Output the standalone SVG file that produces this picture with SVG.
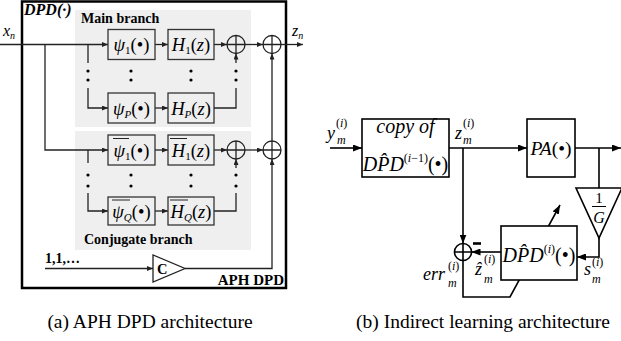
<svg xmlns="http://www.w3.org/2000/svg" width="621" height="341" viewBox="0 0 621 341">
<style>
.t{font-family:"Liberation Serif","Times New Roman",serif;fill:#000}
.i{font-style:italic}
.b{font-weight:bold}
.ll{stroke:#222;stroke-width:1.3;fill:none}
.lr{stroke:#000;stroke-width:1.6;fill:none}
.bl{fill:#efefef;stroke:#333;stroke-width:1.3}
.br{fill:#fff;stroke:#000;stroke-width:1.6}
.ov{stroke:#222;stroke-width:1}
.dot{fill:#000}
</style>
<defs>
<marker id="a" viewBox="0 0 6 5" refX="6" refY="2.5" markerWidth="6" markerHeight="5" markerUnits="userSpaceOnUse" orient="auto"><path d="M0,0L6,2.5L0,5z" fill="#222"/></marker>
<marker id="b" viewBox="0 0 9 7" refX="9" refY="3.5" markerWidth="9" markerHeight="7" markerUnits="userSpaceOnUse" orient="auto"><path d="M0,0L9,3.5L0,7z" fill="#000"/></marker>
</defs>

<g id="aph_dpd_frame">
<rect x="22" y="1.5" width="264" height="286.5" fill="#fff" stroke="#000" stroke-width="2.5"/>
<text class="t b i" x="24" y="15" font-size="16">DPD(·)</text>
<text class="t b" x="284" y="285" font-size="15" text-anchor="end">APH DPD</text>
</g>
<g id="main_branch">
<rect x="75" y="10" width="176" height="117" fill="#efefef"/>
<text class="t b" x="81" y="23" font-size="14">Main branch</text>
</g>
<g id="conjugate_branch">
<rect x="75" y="131" width="176" height="119" fill="#efefef"/>
<text class="t b" x="84" y="244" font-size="14">Conjugate branch</text>
</g>

<g id="connectors">
<path class="ll" d="M0,44.5H108" marker-end="url(#a)"/>
<path class="ll" d="M45,44.5V150H108" marker-end="url(#a)"/>
<path class="ll" d="M88,44.5V63"/>
<path class="ll" d="M88,88V108H108" marker-end="url(#a)"/>
<path class="ll" d="M155,44.5H168" marker-end="url(#a)"/>
<path class="ll" d="M155,108H168" marker-end="url(#a)"/>
<path class="ll" d="M214,44.5H227" marker-end="url(#a)"/>
<path class="ll" d="M214,108H236V88"/>
<path class="ll" d="M236,63V53.5" marker-end="url(#a)"/>
<path class="ll" d="M245,44.5H263" marker-end="url(#a)"/>
<path class="ll" d="M281,44.5H303" marker-end="url(#a)"/>
<path class="ll" d="M88,150V163"/>
<path class="ll" d="M88,193V211H108" marker-end="url(#a)"/>
<path class="ll" d="M155,150H168" marker-end="url(#a)"/>
<path class="ll" d="M155,211H168" marker-end="url(#a)"/>
<path class="ll" d="M214,150H227" marker-end="url(#a)"/>
<path class="ll" d="M214,211H236V193"/>
<path class="ll" d="M236,168V159" marker-end="url(#a)"/>
<path class="ll" d="M245,150H263" marker-end="url(#a)"/>
<path class="ll" d="M272,141V53.5" marker-end="url(#a)"/>
<path class="ll" d="M45,268.5H153" marker-end="url(#a)"/>
<path class="ll" d="M185,268.5H272V159" marker-end="url(#a)"/>
<g class="dot">
<circle cx="88" cy="71" r="1.6"/><circle cx="88" cy="80" r="1.6"/>
<circle cx="131" cy="71" r="1.6"/><circle cx="131" cy="80" r="1.6"/>
<circle cx="191" cy="71" r="1.6"/><circle cx="191" cy="80" r="1.6"/>
<circle cx="236" cy="71" r="1.6"/><circle cx="236" cy="80" r="1.6"/>
<circle cx="88" cy="175" r="1.6"/><circle cx="88" cy="186" r="1.6"/>
<circle cx="131" cy="175" r="1.6"/><circle cx="131" cy="186" r="1.6"/>
<circle cx="191" cy="175" r="1.6"/><circle cx="191" cy="186" r="1.6"/>
<circle cx="236" cy="175" r="1.6"/><circle cx="236" cy="186" r="1.6"/>
</g>
<path class="lr" d="M330,148H362" marker-end="url(#b)"/>
<path class="lr" d="M449,148H527" marker-end="url(#b)"/>
<path class="lr" d="M575,148H621" marker-end="url(#b)"/>
<path class="lr" d="M599,148V188"/>
<path class="lr" d="M599,238V257H577" marker-end="url(#b)"/>
<path class="lr" d="M463,148V243.5" marker-end="url(#b)"/>
<path class="lr" d="M501,252H471.5" marker-end="url(#b)"/>
<path class="lr" d="M463,260.5V297H510L560,205" marker-end="url(#b)"/>
</g>

<g id="x_n"><text class="t i" x="3" y="36" font-size="16">x<tspan font-size="10" dy="3">n</tspan></text></g>
<g id="z_n"><text class="t i" x="292" y="36" font-size="16">z<tspan font-size="10" dy="3">n</tspan></text></g>
<g id="psi_1"><rect class="bl" x="108" y="29.5" width="47" height="30"/>
<text class="t" x="131.5" y="51" font-size="18.5" text-anchor="middle"><tspan class="i">ψ</tspan><tspan font-size="11" dy="3">1</tspan><tspan dy="-3">(•)</tspan></text></g>
<g id="H_1"><rect class="bl" x="168" y="29.5" width="46" height="30"/>
<text class="t" x="191" y="51" font-size="18.5" text-anchor="middle"><tspan class="i">H</tspan><tspan font-size="11" dy="3">1</tspan><tspan dy="-3">(</tspan><tspan class="i">z</tspan>)</text></g>
<g id="psi_P"><rect class="bl" x="108" y="93" width="47" height="30"/>
<text class="t" x="131.5" y="114.5" font-size="18.5" text-anchor="middle"><tspan class="i">ψ</tspan><tspan class="i" font-size="11" dy="3">P</tspan><tspan dy="-3">(•)</tspan></text></g>
<g id="H_P"><rect class="bl" x="168" y="93" width="46" height="30"/>
<text class="t" x="191" y="114.5" font-size="18.5" text-anchor="middle"><tspan class="i">H</tspan><tspan class="i" font-size="11" dy="3">P</tspan><tspan dy="-3">(</tspan><tspan class="i">z</tspan>)</text></g>
<g id="psi_1_conj"><rect class="bl" x="108" y="135" width="47" height="30"/>
<text class="t" x="131.5" y="156.5" font-size="18.5" text-anchor="middle"><tspan class="i">ψ</tspan><tspan font-size="11" dy="3">1</tspan><tspan dy="-3">(•)</tspan></text>
<line class="ov" x1="113" y1="138.5" x2="129" y2="138.5"/></g>
<g id="H_1_conj"><rect class="bl" x="168" y="135" width="46" height="30"/>
<text class="t" x="191" y="156.5" font-size="18.5" text-anchor="middle"><tspan class="i">H</tspan><tspan font-size="11" dy="3">1</tspan><tspan dy="-3">(</tspan><tspan class="i">z</tspan>)</text>
<line class="ov" x1="170" y1="138.5" x2="187" y2="138.5"/></g>
<g id="psi_Q_conj"><rect class="bl" x="108" y="197" width="47" height="28"/>
<text class="t" x="131.5" y="217.5" font-size="18.5" text-anchor="middle"><tspan class="i">ψ</tspan><tspan class="i" font-size="11" dy="3">Q</tspan><tspan dy="-3">(•)</tspan></text>
<line class="ov" x1="112" y1="200" x2="130" y2="200"/></g>
<g id="H_Q_conj"><rect class="bl" x="168" y="197" width="46" height="28"/>
<text class="t" x="191" y="217.5" font-size="18.5" text-anchor="middle"><tspan class="i">H</tspan><tspan class="i" font-size="11" dy="3">Q</tspan><tspan dy="-3">(</tspan><tspan class="i">z</tspan>)</text>
<line class="ov" x1="170" y1="200" x2="188" y2="200"/></g>
<g id="sum_main"><circle class="ll" cx="236" cy="44.5" r="9"/><path class="ll" d="M227,44.5H245M236,35.5V53.5"/></g>
<g id="sum_out"><circle class="ll" cx="272" cy="44.5" r="9"/><path class="ll" d="M263,44.5H281M272,35.5V53.5"/></g>
<g id="sum_conj"><circle class="ll" cx="236" cy="150" r="9"/><path class="ll" d="M227,150H245M236,141V159"/></g>
<g id="sum_const"><circle class="ll" cx="272" cy="150" r="9"/><path class="ll" d="M263,150H281M272,141V159"/></g>
<g id="const_input"><text class="t b" x="45" y="263" font-size="14">1,1,…</text></g>
<g id="gain_C"><polygon points="153,255 153,282 185,268.5" fill="#fff" stroke="#222" stroke-width="1.3"/>
<text class="t b" x="157" y="274" font-size="14.5">C</text></g>

<g id="y_m"><text class="t i" x="327" y="139" font-size="18">y</text>
<text class="t" x="336" y="127" font-size="12">(<tspan class="i">i</tspan>)</text>
<text class="t i" x="337" y="144" font-size="12">m</text></g>
<g id="copy_dpd"><rect class="br" x="362" y="119" width="87" height="58"/>
<text class="t i" x="405.5" y="133" font-size="20" text-anchor="middle">copy of</text>
<text class="t" x="405.5" y="171" font-size="20" text-anchor="middle"><tspan class="i">DP̂D</tspan><tspan font-size="12" dy="-9">(<tspan class="i">i</tspan>−1)</tspan><tspan dy="9">(•)</tspan></text></g>
<g id="z_m"><text class="t i" x="455" y="139" font-size="18">z</text>
<text class="t" x="463" y="127" font-size="12">(<tspan class="i">i</tspan>)</text>
<text class="t i" x="463" y="144" font-size="12">m</text></g>
<g id="pa"><rect class="br" x="527" y="119" width="48" height="58"/>
<text class="t" x="551" y="155" font-size="19.5" text-anchor="middle"><tspan class="i">PA</tspan>(•)</text></g>
<g id="gain_1_over_G"><polygon points="576,188 622,188 599,238" fill="#fff" stroke="#000" stroke-width="1.6"/>
<text class="t" x="599" y="202.5" font-size="15" text-anchor="middle">1</text>
<line x1="592" y1="206.5" x2="606" y2="206.5" stroke="#000" stroke-width="1"/>
<text class="t i" x="599" y="223" font-size="16" text-anchor="middle">G</text></g>
<g id="dpd_est"><rect class="br" x="501" y="226" width="76" height="54"/>
<text class="t" x="539" y="262" font-size="20" text-anchor="middle"><tspan class="i">DP̂D</tspan><tspan font-size="12" dy="-9">(<tspan class="i">i</tspan>)</tspan><tspan dy="9">(•)</tspan></text></g>
<g id="sum_err"><circle class="lr" cx="463" cy="252" r="8.5"/><path class="lr" d="M454.5,252H471.5M463,243.5V260.5"/>
<line x1="473" y1="243.5" x2="481" y2="243.5" stroke="#000" stroke-width="2.6"/></g>
<g id="zhat_m"><text class="t i" x="475" y="275" font-size="18">ẑ</text>
<text class="t" x="484" y="263" font-size="12">(<tspan class="i">i</tspan>)</text>
<text class="t i" x="484" y="283" font-size="12">m</text></g>
<g id="err_m"><text class="t i" x="423" y="280" font-size="18">err</text>
<text class="t" x="448" y="270" font-size="12">(<tspan class="i">i</tspan>)</text>
<text class="t i" x="448" y="287" font-size="12">m</text></g>
<g id="s_m"><text class="t i" x="584" y="275" font-size="18">s</text>
<text class="t" x="592" y="266" font-size="12">(<tspan class="i">i</tspan>)</text>
<text class="t i" x="592" y="283" font-size="12">m</text></g>

<g id="captions">
<text class="t" x="150" y="328" font-size="19.5" text-anchor="middle">(a) APH DPD architecture</text>
<text class="t" x="483" y="328" font-size="19.5" text-anchor="middle">(b) Indirect learning architecture</text>
</g>
</svg>
